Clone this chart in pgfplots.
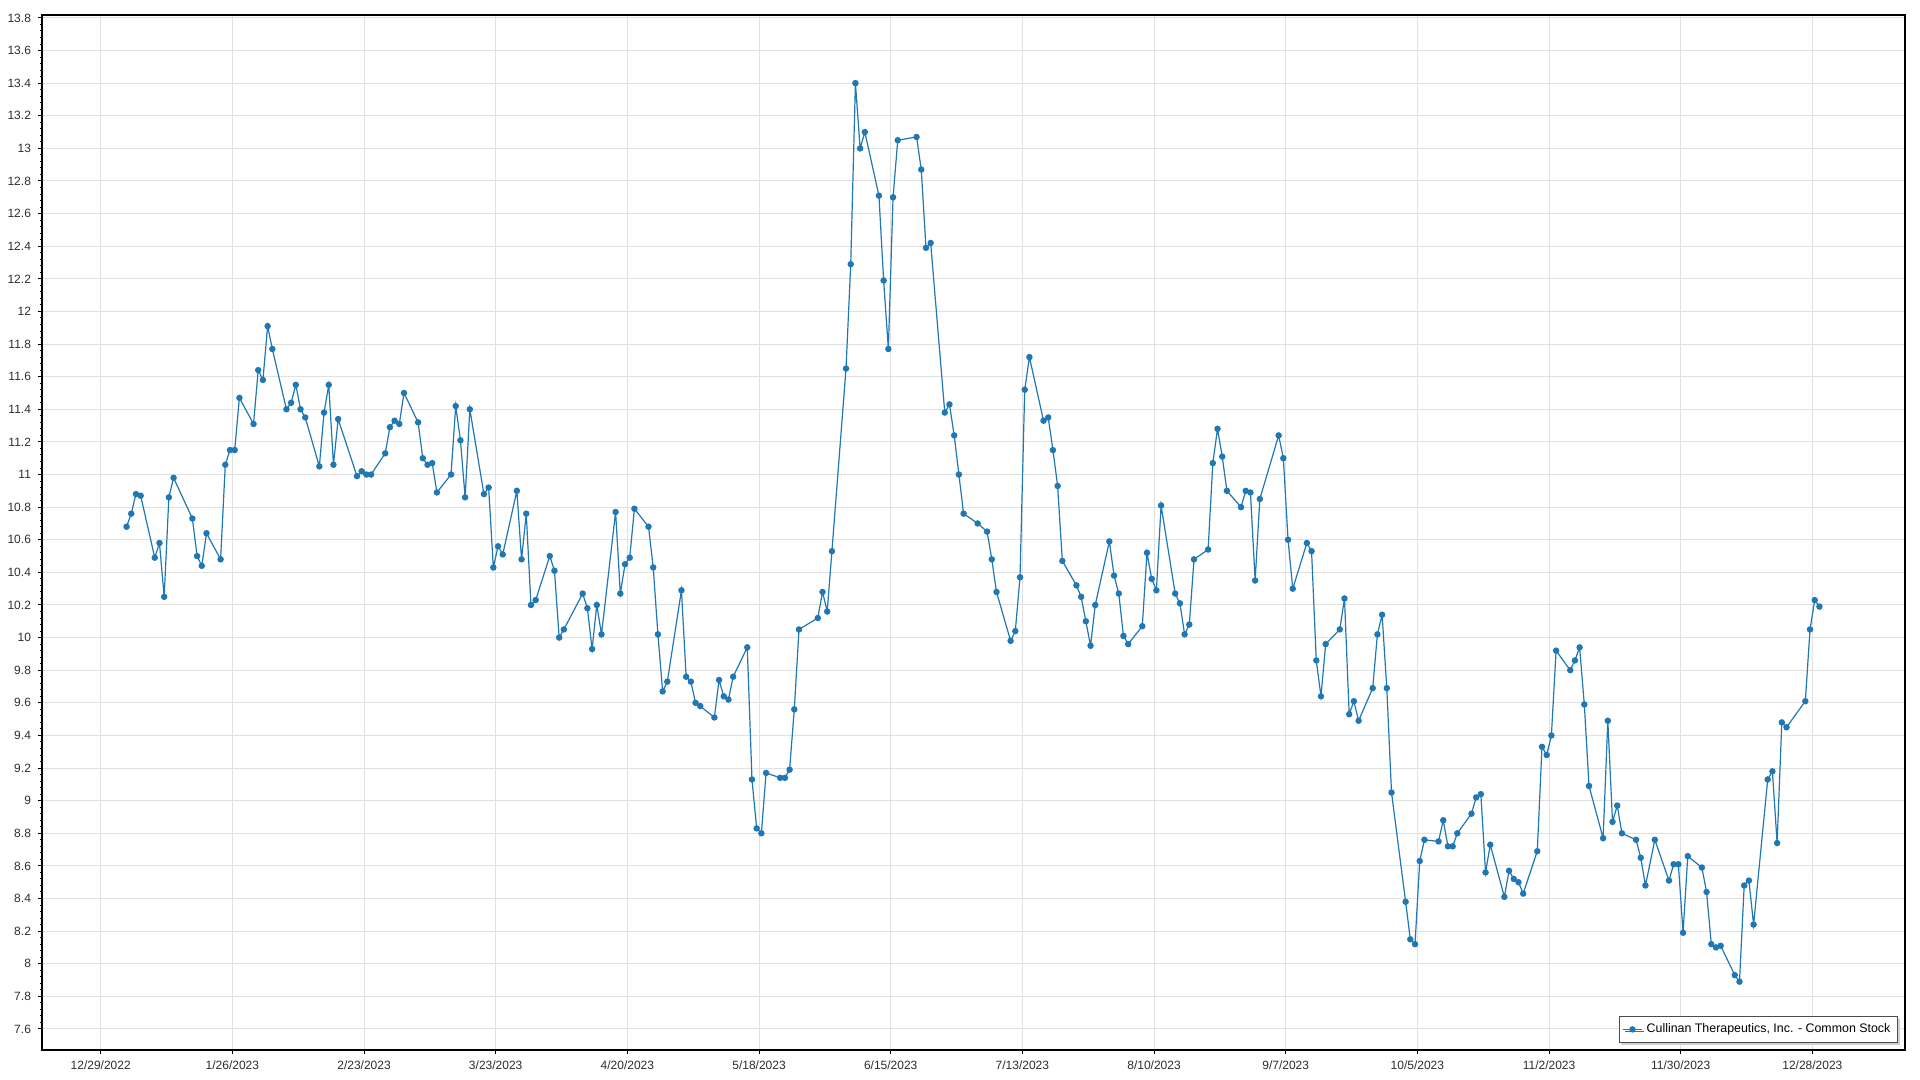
\documentclass[border=0pt]{standalone}
\usepackage{pgfplots}
\pgfplotsset{compat=1.18}
\usepackage{fontspec}
\setmainfont{Liberation Sans}
\usetikzlibrary{shadows}
\definecolor{series}{RGB}{31,119,180}
\definecolor{gridc}{RGB}{225,225,225}
\definecolor{labc}{RGB}{45,45,45}

\begin{document}
\begin{tikzpicture}
% picture frame: 1px of the reference = 0.5pt
\useasboundingbox (-21pt,-15pt) rectangle (939pt,525pt);
\begin{axis}[
    name=ax,
    at={(0,0)}, anchor=south west,
    scale only axis,
    width=931.5pt, height=517.5pt,
    % x = days since 12/29/2022; the points sit half a day right of the date ticks
    xmin=-12.98, xmax=383.2,
    ymin=7.471, ymax=13.818,
    xtick={-0.5,27.5,55.5,83.5,111.5,139.5,167.5,195.5,223.5,251.5,279.5,307.5,335.5,363.5},
    xticklabels={12/29/2022,1/26/2023,2/23/2023,3/23/2023,4/20/2023,5/18/2023,6/15/2023,7/13/2023,8/10/2023,9/7/2023,10/5/2023,11/2/2023,11/30/2023,12/28/2023},
    ytick={7.6,7.8,8,8.2,8.4,8.6,8.8,9,9.2,9.4,9.6,9.8,10,10.2,10.4,10.6,10.8,11,11.2,11.4,11.6,11.8,12,12.2,12.4,12.6,12.8,13,13.2,13.4,13.6,13.8},
    minor y tick num=4,
    tick pos=left,
    tick align=outside,
    major tick length=2pt,
    minor tick length=1pt,
    tick style={black, line width=0.5pt},
    xmajorgrids=true, ymajorgrids=true,
    major grid style={gridc, line width=0.5pt},
    axis line style={black, line width=0.6pt},
    tick label style={font=\fontsize{6}{7}\selectfont, text=labc},
    /pgf/number format/assume math mode=true,
    legend style={
        at={(1,0)}, anchor=south east, xshift=-3.5pt, yshift=3.5pt,
        draw=black!70, line width=0.6pt, fill=white,
        font=\fontsize{6.2}{7.5}\selectfont,
        inner xsep=1.5pt, inner ysep=1.5pt,
        drop shadow={shadow xshift=1.1pt, shadow yshift=-1.1pt, fill=black!18, opacity=1},
    },
    legend image code/.code={
        \draw[mark repeat=2, mark phase=2] plot coordinates {(0pt,0pt) (4.8pt,0pt) (9.6pt,0pt)};
    },
]

\addplot[color=series, line width=0.6pt, mark=*, mark size=1.3pt,
    mark options={solid, fill=series, draw=series}]
    coordinates {
    (5,10.68)(6,10.76)(7,10.88)(8,10.87)
    (11,10.49)(12,10.58)(13,10.25)(14,10.86)(15,10.98)
    (19,10.73)(20,10.50)(21,10.44)(22,10.64)
    (25,10.48)(26,11.06)(27,11.15)(28,11.15)(29,11.47)
    (32,11.31)(33,11.64)(34,11.58)(35,11.91)(36,11.77)
    (39,11.40)(40,11.44)(41,11.55)(42,11.40)(43,11.35)
    (46,11.05)(47,11.38)(48,11.55)(49,11.06)(50,11.34)
    (54,10.99)(55,11.02)(56,11.00)(57,11.00)
    (60,11.13)(61,11.29)(62,11.33)(63,11.31)(64,11.50)
    (67,11.32)(68,11.10)(69,11.06)(70,11.07)(71,10.89)
    (74,11.00)(75,11.42)(76,11.21)(77,10.86)(78,11.40)
    (81,10.88)(82,10.92)(83,10.43)(84,10.56)(85,10.51)
    (88,10.90)(89,10.48)(90,10.76)(91,10.20)(92,10.23)
    (95,10.50)(96,10.41)(97,10.00)(98,10.05)
    (102,10.27)(103,10.18)(104,9.93)(105,10.20)(106,10.02)
    (109,10.77)(110,10.27)(111,10.45)(112,10.49)(113,10.79)
    (116,10.68)(117,10.43)(118,10.02)(119,9.67)(120,9.73)
    (123,10.29)(124,9.76)(125,9.73)(126,9.60)(127,9.58)
    (130,9.51)(131,9.74)(132,9.64)(133,9.62)(134,9.76)
    (137,9.94)(138,9.13)(139,8.83)(140,8.80)(141,9.17)
    (144,9.14)(145,9.14)(146,9.19)(147,9.56)(148,10.05)
    (152,10.12)(153,10.28)(154,10.16)(155,10.53)
    (158,11.65)(159,12.29)(160,13.40)(161,13.00)(162,13.10)
    (165,12.71)(166,12.19)(167,11.77)(168,12.70)(169,13.05)
    (173,13.07)(174,12.87)(175,12.39)(176,12.42)
    (179,11.38)(180,11.43)(181,11.24)(182,11.00)(183,10.76)
    (186,10.70)(188,10.65)(189,10.48)(190,10.28)
    (193,9.98)(194,10.04)(195,10.37)(196,11.52)(197,11.72)
    (200,11.33)(201,11.35)(202,11.15)(203,10.93)(204,10.47)
    (207,10.32)(208,10.25)(209,10.10)(210,9.95)(211,10.20)
    (214,10.59)(215,10.38)(216,10.27)(217,10.01)(218,9.96)
    (221,10.07)(222,10.52)(223,10.36)(224,10.29)(225,10.81)
    (228,10.27)(229,10.21)(230,10.02)(231,10.08)(232,10.48)
    (235,10.54)(236,11.07)(237,11.28)(238,11.11)(239,10.90)
    (242,10.80)(243,10.90)(244,10.89)(245,10.35)(246,10.85)
    (250,11.24)(251,11.10)(252,10.60)(253,10.30)
    (256,10.58)(257,10.53)(258,9.86)(259,9.64)(260,9.96)
    (263,10.05)(264,10.24)(265,9.53)(266,9.61)(267,9.49)
    (270,9.69)(271,10.02)(272,10.14)(273,9.69)(274,9.05)
    (277,8.38)(278,8.15)(279,8.12)(280,8.63)(281,8.76)
    (284,8.75)(285,8.88)(286,8.72)(287,8.72)(288,8.80)
    (291,8.92)(292,9.02)(293,9.04)(294,8.56)(295,8.73)
    (298,8.41)(299,8.57)(300,8.52)(301,8.50)(302,8.43)
    (305,8.69)(306,9.33)(307,9.28)(308,9.40)(309,9.92)
    (312,9.80)(313,9.86)(314,9.94)(315,9.59)(316,9.09)
    (319,8.77)(320,9.49)(321,8.87)(322,8.97)(323,8.80)
    (326,8.76)(327,8.65)(328,8.48)(330,8.76)
    (333,8.51)(334,8.61)(335,8.61)(336,8.19)(337,8.66)
    (340,8.59)(341,8.44)(342,8.12)(343,8.10)(344,8.11)
    (347,7.93)(348,7.89)(349,8.48)(350,8.51)(351,8.24)
    (354,9.13)(355,9.18)(356,8.74)(357,9.48)(358,9.45)
    (362,9.61)(363,10.05)(364,10.23)(365,10.19)
    };
\addlegendentry{Cullinan Therapeutics, Inc. - Common Stock}

\end{axis}
\end{tikzpicture}
\end{document}
